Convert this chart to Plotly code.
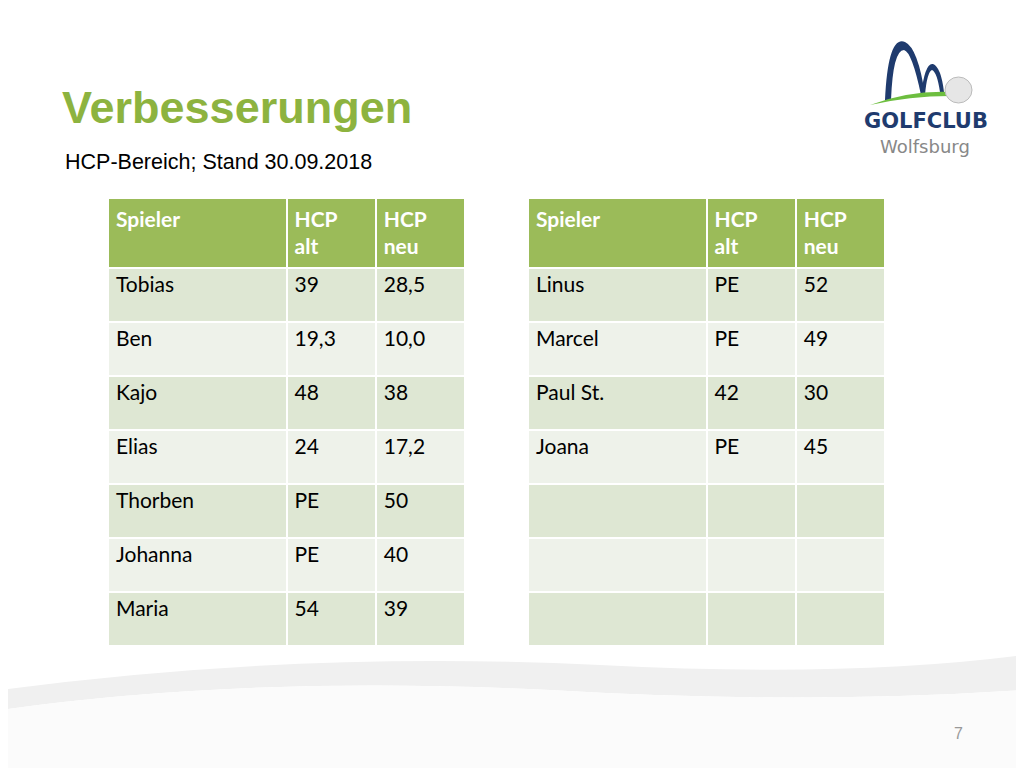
import plotly.graph_objects as go

header = ["<b>Spieler</b><br> ", "<b>HCP<br>alt</b>", "<b>HCP<br>neu</b>"]
left_names = ["Tobias", "Ben", "Kajo", "Elias", "Thorben", "Johanna", "Maria"]
left_alt = ["39", "19,3", "48", "24", "PE", "PE", "54"]
left_neu = ["28,5", "10,0", "38", "17,2", "50", "40", "39"]
right_names = ["Linus", "Marcel", "Paul St.", "Joana", "", "", ""]
right_alt = ["PE", "PE", "42", "PE", "", "", ""]
right_neu = ["52", "49", "30", "45", "", "", ""]

W, H = 1024, 768
DX, DY = -8, -8
row_fill = ["#DEE7D3", "#EEF2EA"] * 4
row_fill = row_fill[:7]

def table(cols, x0, x1):
    return go.Table(
        domain=dict(x=[(x0 + DX) / W, (x1 + DX) / W], y=[1 - (650 + DY) / H, 1 - (198 + DY) / H]),
        columnwidth=[178, 89, 89],
        header=dict(values=header, fill_color="#9BBB59", height=70,
                    line=dict(color="white", width=2), align="left",
                    font=dict(family="Lato", size=21, color="white")),
        cells=dict(values=cols, fill_color=[row_fill] * 3, height=54,
                   line=dict(color="white", width=2), align="left",
                   font=dict(family="Lato", size=21, color="black")),
    )

fig = go.Figure()
fig.add_trace(table([left_names, left_alt, left_neu], 108, 465))
fig.add_trace(table([right_names, right_alt, right_neu], 528, 885))

fig.update_layout(
    width=W, height=H, margin=dict(l=0, r=0, t=0, b=0),
    paper_bgcolor="white", plot_bgcolor="white",
    xaxis=dict(range=[-DX, W - DX], visible=False, fixedrange=True),
    yaxis=dict(range=[H - DY, -DY], visible=False, fixedrange=True),
    showlegend=False,
)
# bottom swoosh
fig.add_shape(type="path", xref="x", yref="y", layer="below",
              path="M0,690 Q300,650 600,665 Q850,678 1024,655 L1024,690 Q800,705 550,690 Q250,675 0,710 Z",
              fillcolor="#F0F0F0", line=dict(width=0))
fig.add_shape(type="path", xref="x", yref="y", layer="below",
              path="M0,710 Q250,675 550,690 Q800,705 1024,690 L1024,780 L0,780 Z",
              fillcolor="#FBFBFB", line=dict(width=0))
# logo arches
fig.add_shape(type="path", xref="x", yref="y",
              path="M885,100 Q888,35 905,42 Q918,48 925,95 L921,95 Q912,52 904,50 Q893,50 891,100 Z",
              fillcolor="#1F3B6E", line=dict(width=0))
fig.add_shape(type="path", xref="x", yref="y",
              path="M921,95 Q925,62 933,64 Q941,67 944,92 L940,92 Q937,72 932,70 Q927,72 925,95 Z",
              fillcolor="#1F3B6E", line=dict(width=0))
fig.add_shape(type="path", xref="x", yref="y",
              path="M870,105 Q910,90 952,92 L950,96 Q910,96 870,105 Z",
              fillcolor="#6DBE3F", line=dict(width=0))
fig.add_shape(type="circle", xref="x", yref="y", x0=945, y0=77, x1=972, y1=103,
              fillcolor="#E6E6E6", line=dict(color="#BBBBBB", width=1))

anns = [
    dict(x=60, y=107, text="<b>Verbesserungen</b>", size=45, color="#8DB33F", family="Arial"),
    dict(x=63, y=162, text="HCP-Bereich; Stand 30.09.2018", size=21.5, color="black", family="Arial"),
    dict(x=862, y=121, text="<b>GOLFCLUB</b>", size=21, color="#1F3B6E", family="DejaVu Sans"),
    dict(x=878, y=146, text="Wolfsburg", size=18, color="#888888", family="DejaVu Sans"),
    dict(x=952, y=733, text="7", size=16, color="#999999", family="Arial"),
]
for a in anns:
    fig.add_annotation(x=a["x"], y=a["y"], xref="x", yref="y", text=a["text"], showarrow=False,
                       xanchor="left", yanchor="middle",
                       font=dict(size=a["size"], color=a["color"], family=a["family"]))

fig.write_html("out.html")
